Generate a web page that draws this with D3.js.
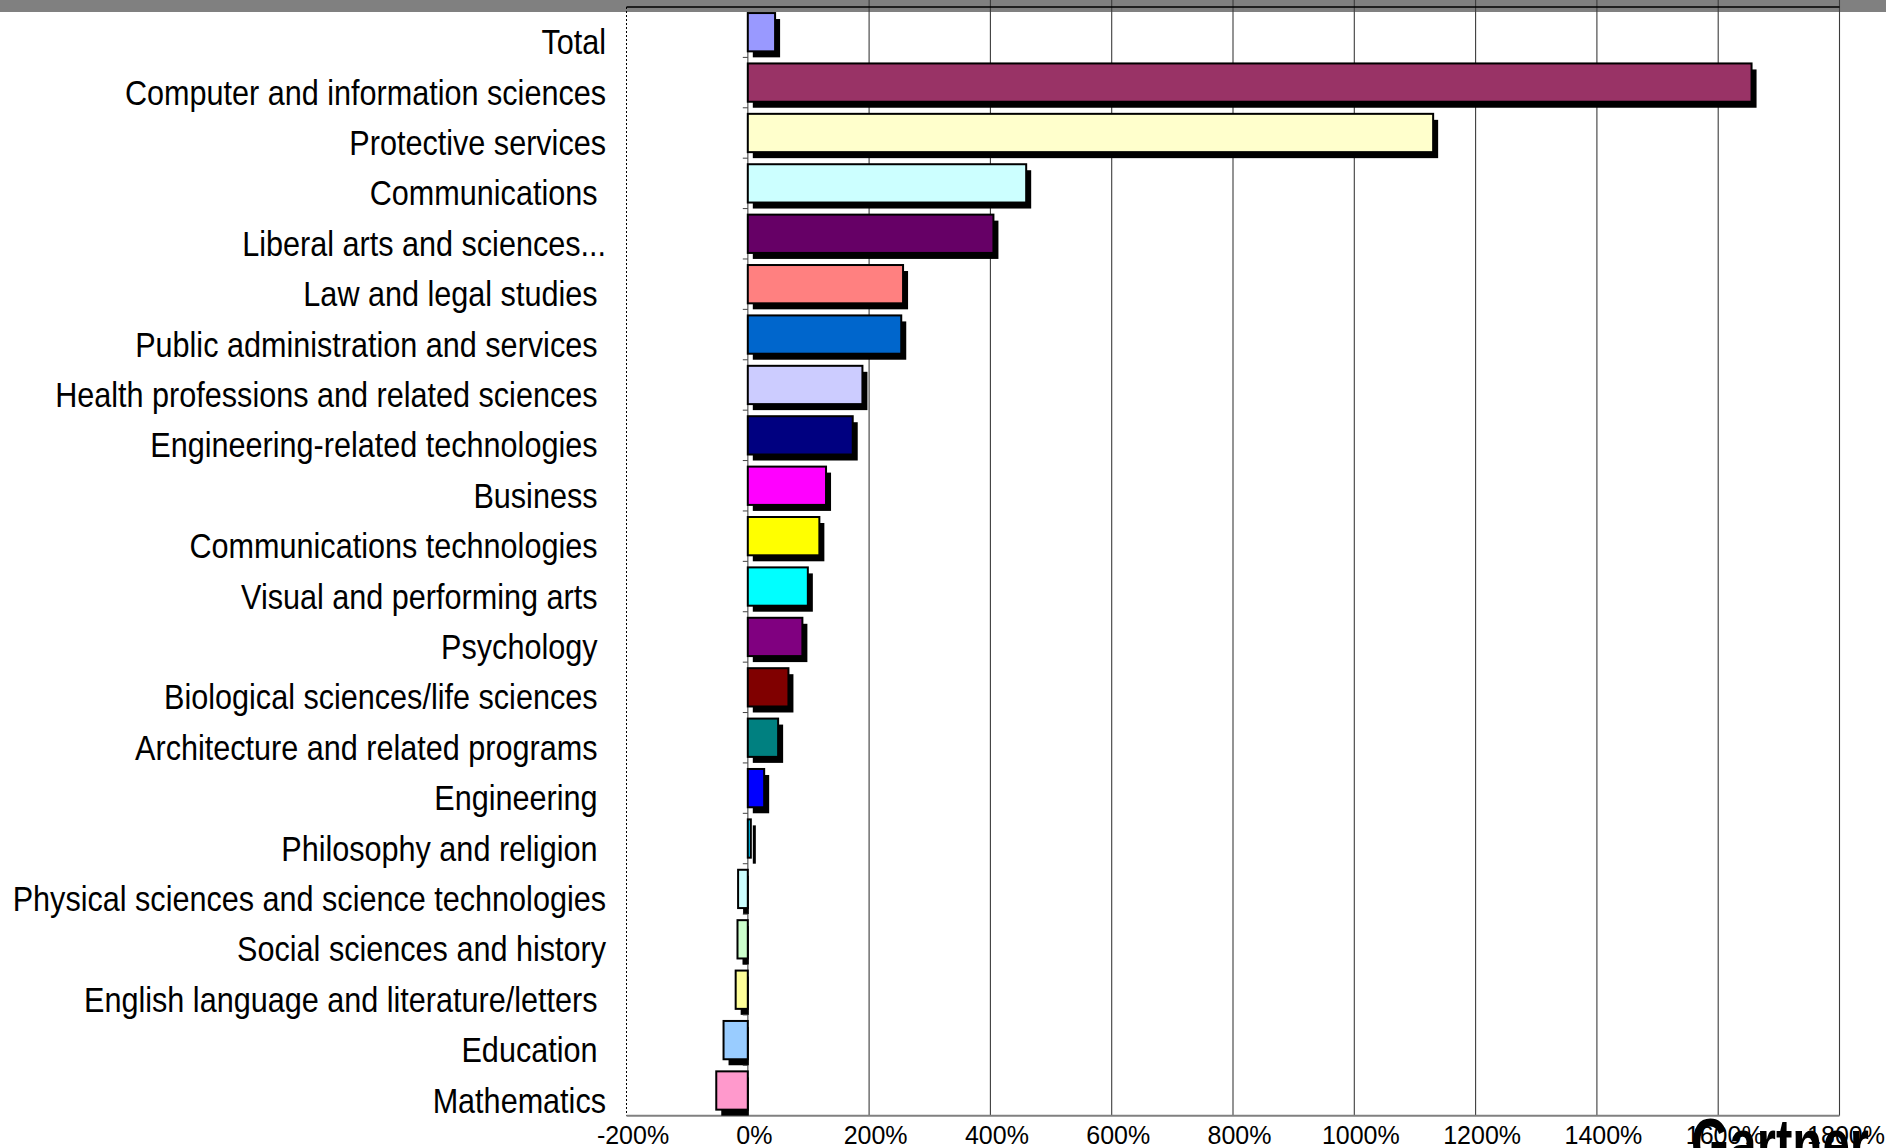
<!DOCTYPE html>
<html>
<head>
<meta charset="utf-8">
<script src="https://cdn.jsdelivr.net/npm/d3@7"></script>
<style>
  body { margin: 0; background: #fff; }
  svg { display: block; }
  .cat { font-family: "Liberation Sans Narrow", "Liberation Sans", Arial, sans-serif; font-size: 36px; fill: #000; white-space: pre; }
  .tick text { font-family: "Liberation Sans", Arial, sans-serif; font-size: 25px; fill: #000; }
</style>
</head>
<body>
<script>
// categories top to bottom (trailing spaces are in the original labels)
const categories = [
  "Total",
  "Computer and information sciences",
  "Protective services",
  "Communications ",
  "Liberal arts and sciences...",
  "Law and legal studies ",
  "Public administration and services ",
  "Health professions and related sciences ",
  "Engineering-related technologies ",
  "Business ",
  "Communications technologies ",
  "Visual and performing arts ",
  "Psychology ",
  "Biological sciences/life sciences ",
  "Architecture and related programs ",
  "Engineering ",
  "Philosophy and religion ",
  "Physical sciences and science technologies",
  "Social sciences and history",
  "English language and literature/letters ",
  "Education ",
  "Mathematics"
];
// percent change
const values = [45, 1655, 1130, 459, 405, 256, 253, 189, 173, 129, 118, 99, 90, 67, 50, 27, 5, -16, -17, -20, -40, -52];
const colors = [
  "#9999FF", "#993366", "#FFFFCC", "#CCFFFF", "#660066", "#FF8080", "#0066CC", "#CCCCFF",
  "#000080", "#FF00FF", "#FFFF00", "#00FFFF", "#800080", "#800000", "#008080", "#0000FF",
  "#00CCFF", "#CCFFFF", "#CCFFCC", "#FFFF99", "#99CCFF", "#FF99CC"
];
const xTicks = [-200, 0, 200, 400, 600, 800, 1000, 1200, 1400, 1600, 1800];

var width = 1904, height = 1148;
var plotLeft = 626.5, plotRight = 1839.5, plotTop = 7, plotBottom = 1115.7;

var svg = d3.select("body").append("svg")
    .attr("width", width)
    .attr("height", height);

var x = d3.scaleLinear()
    .domain([-200, 1800])
    .range([plotLeft, plotRight]);

var y = d3.scaleBand()
    .domain(categories)
    .range([plotTop, plotBottom])
    .paddingInner(0.24)
    .paddingOuter(0.12);

// gray strip at the top
svg.append("rect")
    .attr("x", 0).attr("y", 0)
    .attr("width", 1886).attr("height", 12)
    .attr("fill", "#808080");

// vertical gridlines
svg.append("g")
    .selectAll("line")
    .data(xTicks.filter(d => d > -200))
    .enter().append("line")
    .attr("x1", d => x(d)).attr("x2", d => x(d))
    .attr("y1", 0).attr("y2", plotBottom)
    .attr("stroke", d => d === 0 ? "#808080" : "#3c3c3c")
    .attr("stroke-width", d => d === 0 ? 1.6 : 1.1);

// top border
svg.append("line")
    .attr("x1", plotLeft).attr("x2", plotRight)
    .attr("y1", plotTop).attr("y2", plotTop)
    .attr("stroke", "#000").attr("stroke-width", 1.4);

// dotted left edge
svg.append("line")
    .attr("x1", plotLeft).attr("x2", plotLeft)
    .attr("y1", plotTop).attr("y2", plotBottom)
    .attr("stroke", "#000").attr("stroke-width", 1)
    .attr("stroke-dasharray", "2,2");

// bottom axis line
svg.append("line")
    .attr("x1", plotLeft).attr("x2", plotRight)
    .attr("y1", plotBottom).attr("y2", plotBottom)
    .attr("stroke", "#808080").attr("stroke-width", 2);

var rows = categories.map((c, i) => ({ name: c, value: values[i], color: colors[i] }));

// shadows
svg.append("g")
    .selectAll("rect")
    .data(rows)
    .enter().append("rect")
    .attr("x", d => Math.min(x(0), x(d.value)) + 5)
    .attr("y", d => y(d.name) + 6)
    .attr("width", d => Math.max(0, Math.abs(x(d.value) - x(0)) - (d.value < 0 ? 4 : 0)))
    .attr("height", y.bandwidth())
    .attr("fill", "#000");

// bars
svg.append("g")
    .selectAll("rect")
    .data(rows)
    .enter().append("rect")
    .attr("x", d => Math.min(x(0), x(d.value)))
    .attr("y", d => y(d.name))
    .attr("width", d => Math.abs(x(d.value) - x(0)))
    .attr("height", y.bandwidth())
    .attr("fill", d => d.color)
    .attr("stroke", "#000")
    .attr("stroke-width", 2);

// small category ticks on the zero line
svg.append("g")
    .selectAll("line")
    .data(categories.slice(1))
    .enter().append("line")
    .attr("x1", x(0) - 5).attr("x2", x(0))
    .attr("y1", d => y(d) - y.step() * y.paddingInner() / 2)
    .attr("y2", d => y(d) - y.step() * y.paddingInner() / 2)
    .attr("stroke", "#444").attr("stroke-width", 1);

// category labels (narrow face: squeeze regular sans horizontally)
svg.append("g")
    .selectAll("text")
    .data(categories)
    .enter().append("text")
    .attr("class", "cat")
    .attr("xml:space", "preserve")
    .attr("text-anchor", "end")
    .attr("transform", d => "translate(606," + (y(d) + y.bandwidth() / 2 + 22) + ") scale(0.85,1)")
    .text(d => d);

// x axis tick labels
var xAxis = svg.append("g")
    .attr("transform", "translate(0," + plotBottom + ")")
    .call(d3.axisBottom(x).tickValues(xTicks).tickFormat(d => d + "%").tickSize(0));
xAxis.select(".domain").remove();
xAxis.selectAll("text")
    .attr("y", 28.3).attr("dy", 0).attr("dx", 6);

// logo
svg.append("text")
    .attr("x", 1691).attr("y", 1168)
    .attr("textLength", 178).attr("lengthAdjust", "spacingAndGlyphs")
    .style("font-family", "'Liberation Sans', Arial, sans-serif")
    .style("font-weight", "bold")
    .style("font-size", "70px")
    .text("Gartner");
</script>
</body>
</html>
